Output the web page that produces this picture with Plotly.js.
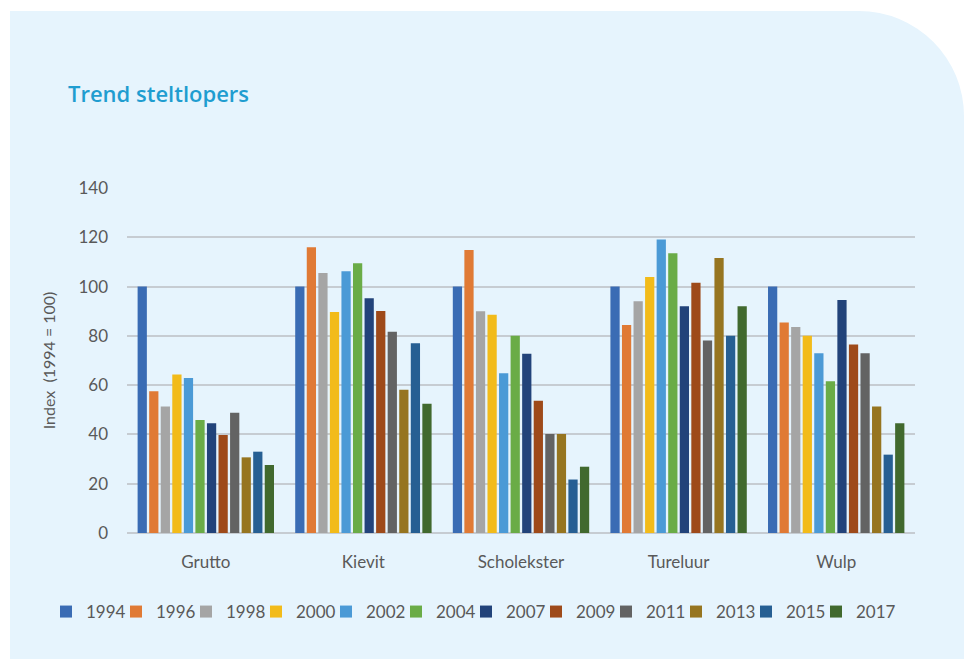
<!DOCTYPE html>
<html>
<head>
<meta charset="utf-8">
<script src="https://cdn.plot.ly/plotly-3.0.1.min.js"></script>
<style>
  html, body { margin: 0; padding: 0; background: #ffffff; }
  #panel { position: absolute; left: 10px; top: 11px; width: 954px; height: 648px;
           background: #e6f4fd; border-top-right-radius: 105px; }
  #chart { position: absolute; left: 0; top: 0; width: 964px; height: 659px; }
</style>
</head>
<body>
<div id="panel"></div>
<div id="chart"></div>
<script>
const categories = ["Grutto", "Kievit", "Scholekster", "Tureluur", "Wulp"];
const years = ["1994", "1996", "1998", "2000", "2002", "2004", "2007", "2009", "2011", "2013", "2015", "2017"];
const v1994 = [100, 100, 100, 100, 100];
const v1996 = [57.5, 116, 114.8, 84.4, 85.4];
const v1998 = [51.3, 105.5, 90, 94, 83.6];
const v2000 = [64.3, 89.7, 88.6, 103.9, 80];
const v2002 = [62.9, 106.2, 64.8, 119.1, 72.9];
const v2004 = [45.9, 109.5, 80, 113.5, 61.6];
const v2007 = [44.5, 95.3, 72.7, 92, 94.6];
const v2009 = [39.8, 90.1, 53.7, 101.6, 76.5];
const v2011 = [48.8, 81.7, 40.2, 78.1, 72.9];
const v2013 = [30.7, 58.1, 40.2, 111.6, 51.3];
const v2015 = [33.0, 77, 21.7, 80, 31.8];
const v2017 = [27.6, 52.5, 26.9, 92, 44.5];
const seriesValues = [v1994, v1996, v1998, v2000, v2002, v2004, v2007, v2009, v2011, v2013, v2015, v2017];
const colors = ["#3a6cb4", "#e07a35", "#a5a5a5", "#f2bb1a", "#4b9ad6", "#6aac47",
                "#22437a", "#9e4a1a", "#636363", "#967520", "#265f93", "#41692e"];

const legendName = i => (i === 0 ? "legend" : "legend" + (i + 1));

const traces = years.map((y, i) => ({
  type: "bar",
  name: y,
  x: categories,
  y: seriesValues[i],
  marker: { color: colors[i] },
  legend: legendName(i),
  hoverinfo: "x+y+name"
}));

const font = "Lato, 'Open Sans', 'Noto Sans', sans-serif";
const legendBase = {
  orientation: "h",
  xref: "container",
  xanchor: "left",
  yref: "container",
  y: 1 - 612 / 659, yanchor: "middle",
  font: { family: font, size: 17, color: "#595959" },
  bgcolor: "rgba(0,0,0,0)",
  itemwidth: 30,
  itemclick: false,
  itemdoubleclick: false
};
const layout = {
  width: 964, height: 659,
  paper_bgcolor: "rgba(0,0,0,0)",
  plot_bgcolor: "rgba(0,0,0,0)",
  margin: { l: 127, r: 49, t: 188, b: 126 },
  barmode: "group",
  bargap: 0.12,
  bargroupgap: 0.2,
  showlegend: true,
  font: { family: font, color: "#595959", size: 16 },
  title: {
    text: "Trend steltlopers",
    font: { family: "'Open Sans', Lato, sans-serif", size: 22, color: "#1f9dd0", weight: 600 },
    x: 68 / 964, xanchor: "left", xref: "container",
    y: 1 - 94 / 659, yanchor: "middle", yref: "container"
  },
  xaxis: {
    tickfont: { family: font, size: 17, color: "#595959" },
    showgrid: false,
    showline: false,
    ticks: "",
    ticklabelstandoff: 17
  },
  yaxis: {
    range: [0, 140],
    dtick: 20,
    tick0: 0,
    showgrid: true,
    gridcolor: "#c6ccd2",
    gridwidth: 1.5,
    zeroline: true,
    zerolinecolor: "#c6ccd2",
    zerolinewidth: 1.5,
    showline: false,
    ticks: "",
    ticklabelstandoff: 18,
    tickfont: { family: font, size: 17, color: "#595959" },
    title: { text: "Index  (1994 = 100)", font: { family: font, size: 16, color: "#595959" }, standoff: 18 }
  }
};
years.forEach((y, i) => {
  layout[legendName(i)] = Object.assign({}, legendBase, { x: (46 + i * 70) / 964 });
});

Plotly.newPlot("chart", traces, layout, { displayModeBar: false, responsive: false });
</script>
</body>
</html>
